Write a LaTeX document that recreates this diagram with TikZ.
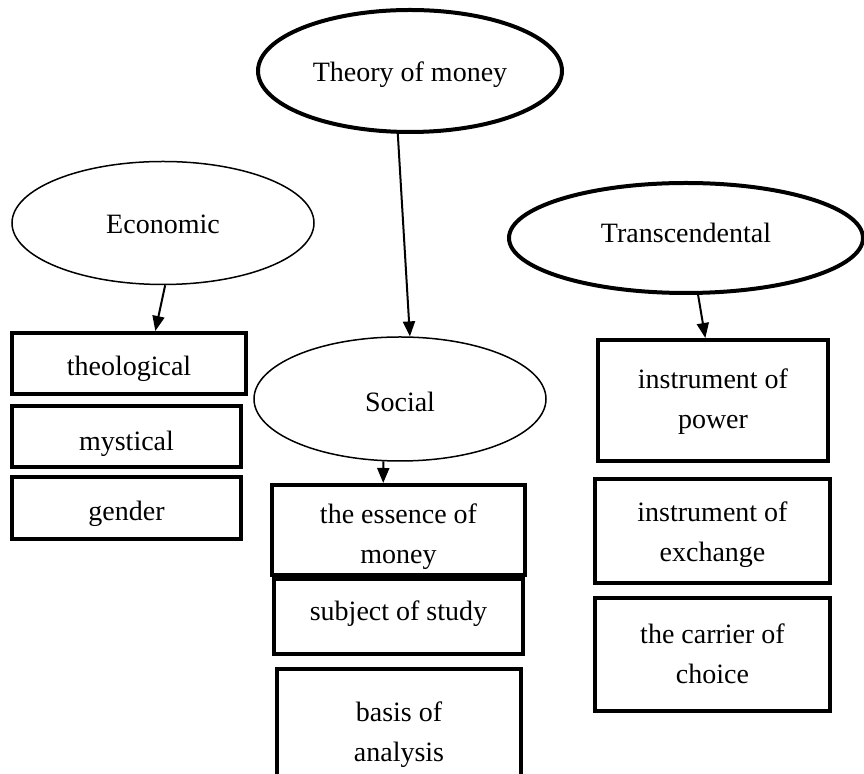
\documentclass[tikz,border=0pt]{standalone}
\usepackage{fontspec}
\setmainfont{Liberation Serif}
\usetikzlibrary{shapes.geometric,arrows.meta}
\begin{document}
\begin{tikzpicture}[x=0.5pt,y=-0.5pt,
 every node/.style={inner sep=0pt},
 txt/.style={font=\fontsize{14}{20}\selectfont, align=center},
 oval/.style={draw, ellipse, line width=0.75pt},
 thickoval/.style={draw, ellipse, line width=2pt},
 box/.style={draw, rectangle, line width=2pt},
 conn/.style={line width=1pt, -{Triangle[length=7.5pt,width=6pt]}}]
\useasboundingbox (0,0) rectangle (864,774);
\clip (0,0) rectangle (864,774);
% ellipses
\node[thickoval, minimum width=152pt, minimum height=61pt] (theory) at (410,71) {};
\node[oval, minimum width=151pt, minimum height=61.5pt] (econ) at (163,223) {};
\node[thickoval, minimum width=177pt, minimum height=55pt] (trans) at (686,238) {};
\node[oval, minimum width=146pt, minimum height=62pt] (social) at (400,399) {};
\node[txt] (theoryT) at (410,75) {Theory of money};
\node[txt] (econT) at (163,224) {Economic};
\node[txt] (transT) at (686,233) {Transcendental};
\node[txt] (socialT) at (400,402) {Social};
% left column
\node[box, minimum width=117pt, minimum height=30.5pt] (theo) at (129,363.5) {};
\node[box, minimum width=114.5pt, minimum height=30.5pt] (myst) at (126.5,436.5) {};
\node[box, minimum width=114.5pt, minimum height=31pt] (gender) at (126.5,508) {};
\node[txt] (theoT) at (129,369) {theological};
\node[txt] (mystT) at (126.5,444) {mystical};
\node[txt] (genderT) at (126.5,514) {gender};
% middle column
\node[box, minimum width=126.5pt, minimum height=45pt] (essence) at (398.5,530) {};
\node[box, minimum width=124.5pt, minimum height=37.5pt] (subject) at (398.5,616.5) {};
\node[box, minimum width=122pt, minimum height=64.5pt] (basis) at (399,733.5) {};
\node[txt] (essenceT) at (398.5,537) {the essence of\\money};
\node[txt] (subjectT) at (398.5,614) {subject of study};
\node[txt] (basisT) at (399,735) {basis of\\analysis};
% right column
\node[box, minimum width=115pt, minimum height=60.5pt] (power) at (713,400.5) {};
\node[box, minimum width=117.5pt, minimum height=52pt] (exchange) at (712.5,531) {};
\node[box, minimum width=117.5pt, minimum height=56.5pt] (choice) at (712.5,654.5) {};
\node[txt] (powerT) at (713,402) {instrument of\\power};
\node[txt] (exchangeT) at (712.5,535) {instrument of\\exchange};
\node[txt] (choiceT) at (712.5,654) {the carrier of\\choice};
% connectors
\draw[conn] (theory.259) -- (social.81);
\draw[conn] (econ.272) -- (theo.51);
\draw[conn] (trans.282) -- (power.97);
\draw[conn] (social.255) -- (essence.108);
\end{tikzpicture}
\end{document}
